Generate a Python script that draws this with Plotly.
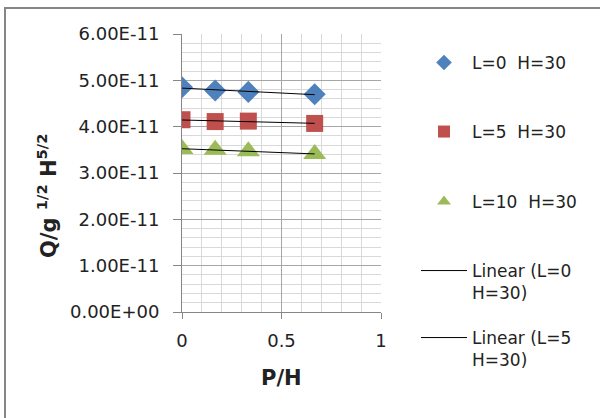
import numpy as np
import plotly.graph_objects as go

# ---- data ----
x_ph = [0.0, 0.1667, 0.3333, 0.6667]
y_L0 = [4.85e-11, 4.78e-11, 4.75e-11, 4.70e-11]
y_L5 = [4.15e-11, 4.11e-11, 4.12e-11, 4.07e-11]
y_L10 = [3.52e-11, 3.50e-11, 3.47e-11, 3.41e-11]
series_names = ["L=0\u00a0\u00a0H=30", "L=5\u00a0\u00a0H=30", "L=10\u00a0\u00a0H=30"]
trend_names = ["Linear (L=0<br>H=30)", "Linear (L=5<br>H=30)", "Linear (L=10<br>H=30)"]
y_tickvals = [0, 1e-11, 2e-11, 3e-11, 4e-11, 5e-11, 6e-11]
y_ticktext = ["0.00E+00", "1.00E-11", "2.00E-11", "3.00E-11", "4.00E-11", "5.00E-11", "6.00E-11"]
x_tickvals = [0, 0.5, 1]
x_ticktext = ["0", "0.5", "1"]

colors = ["#4F81BD", "#C0504D", "#9BBB59"]
symbols = ["diamond", "square", "triangle-up"]
sizes = [17, 17, 20]
FONT = "DejaVu Sans"

fig = go.Figure()
all_y = [y_L0, y_L5, y_L10]
legends = ["legend", "legend2", "legend3"]
for ys, name, c, s, sz, lg in zip(all_y, series_names, colors, symbols, sizes, legends):
    fig.add_trace(go.Scatter(x=x_ph, y=ys, mode="markers", name=name,
                             marker=dict(color=c, symbol=s, size=sz, line=dict(width=0)),
                             legend=lg))

trend_legends = ["legend4", "legend5", None]
for ys, name, lg in zip(all_y, trend_names, trend_legends):
    k, b = np.polyfit(x_ph, ys, 1)
    xs = np.array([min(x_ph), max(x_ph)])
    kw = dict(legend=lg) if lg else dict(showlegend=False)
    fig.add_trace(go.Scatter(x=xs, y=k * xs + b, mode="lines", name=name,
                             line=dict(color="black", width=1), **kw))

W, H = 600, 418
L, R, T, B = 182, 219, 34, 106

def leg(xpx, ypx, yanchor="middle", valign="middle", sizing="constant", itemwidth=30):
    return dict(xref="container", yref="container", x=xpx / W, y=1 - ypx / H,
                xanchor="left", yanchor=yanchor, valign=valign,
                bgcolor="rgba(0,0,0,0)", borderwidth=0,
                font=dict(family=FONT, size=17, color="#222"),
                itemsizing=sizing, itemwidth=itemwidth)

LX = 416
fig.update_layout(
    width=W, height=H,
    margin=dict(l=L, r=R, t=T, b=B),
    paper_bgcolor="white", plot_bgcolor="white",
    showlegend=True,
    legend=leg(LX, 63, itemwidth=46),
    legend2=leg(LX, 132, itemwidth=46),
    legend3=leg(LX, 202, itemwidth=46),
    legend4=leg(LX, 253, yanchor="top", valign="top", sizing="trace", itemwidth=46),
    legend5=leg(LX, 320, yanchor="top", valign="top", sizing="trace", itemwidth=46),
    xaxis=dict(range=[0, 1], tickvals=x_tickvals, ticktext=x_ticktext,
               showline=True, linecolor="#868686", linewidth=1,
               ticks="outside", ticklen=6, tickcolor="#868686",
               showgrid=True, gridcolor="#A6A6A6", gridwidth=1,
               minor=dict(dtick=0.1, showgrid=True, gridcolor="#D9D9D9", gridwidth=1),
               tickfont=dict(family=FONT, size=18, color="#222"),
               ticklabelstandoff=6, zeroline=False, fixedrange=True),
    yaxis=dict(range=[0, 6e-11], tickvals=y_tickvals, ticktext=y_ticktext,
               showline=True, linecolor="#868686", linewidth=1,
               ticks="outside", ticklen=8, tickcolor="#868686",
               showgrid=True, gridcolor="#A6A6A6", gridwidth=1,
               minor=dict(dtick=2e-12, tick0=0, showgrid=True, gridcolor="#D9D9D9", gridwidth=1),
               tickfont=dict(family=FONT, size=18, color="#222"),
               ticklabelstandoff=10, zeroline=False, fixedrange=True),
    annotations=[
        dict(text="<b>Q/g <sup>1/2</sup> H<sup>5/2</sup></b>", xref="paper", yref="paper",
             x=(47 - L) / (W - L - R), y=(312 - 196) / (H - T - B), textangle=-90,
             showarrow=False, xanchor="center", yanchor="middle",
             font=dict(family=FONT, size=21, color="#222")),
        dict(text="<b>P/H</b>", xref="paper", yref="paper",
             x=0.5, y=(312 - 378) / (H - T - B), showarrow=False,
             xanchor="center", yanchor="middle",
             font=dict(family=FONT, size=21, color="#222")),
    ],
    shapes=[dict(type="rect", xref="paper", yref="paper",
                 x0=(5 - L) / (W - L - R), x1=(612 - L) / (W - L - R),
                 y0=(312 - 430) / (H - T - B), y1=(312 - 8) / (H - T - B),
                 line=dict(color="#868686", width=2), layer="above")],
)

fig.write_html("out.html")
